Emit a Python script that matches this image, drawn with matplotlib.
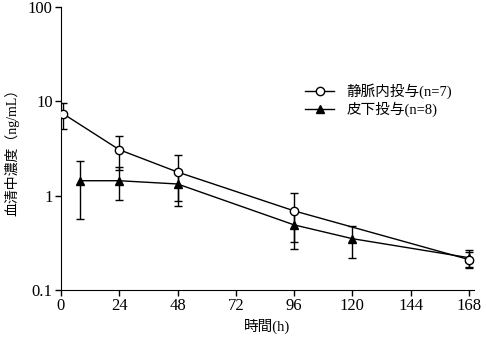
import matplotlib
matplotlib.use('Agg')
import matplotlib.pyplot as plt
from matplotlib.lines import Line2D
from matplotlib.ticker import FixedLocator, NullLocator

plt.rcParams['font.family'] = ['Liberation Serif', 'Noto Sans CJK JP']

# 静脈内投与 (n=7)
iv_t = [1, 24, 48, 96, 168]
iv_mean = [7.35, 3.07, 1.78, 0.69, 0.21]
iv_sd = [2.3, 1.19, 0.90, 0.37, 0.04]

# 皮下投与 (n=8)
sc_t = [8, 24, 48, 96, 120, 168]
sc_mean = [1.44, 1.44, 1.33, 0.49, 0.35, 0.22]
sc_sd = [0.87, 0.55, 0.55, 0.22, 0.13, 0.045]

x_ticks = [0, 24, 48, 72, 96, 120, 144, 168]
y_ticks = [0.1, 1, 10, 100]
y_labels = ['0.1', '1', '10', '100']

fig = plt.figure(figsize=(4.86, 3.43), dpi=100)
ax = fig.add_axes([0.1255, 0.1545, 0.8495, 0.8251])

ax.errorbar(iv_t, iv_mean, yerr=iv_sd, color='black', lw=1, marker='o',
            mfc='white', mec='black', ms=6, capsize=3, elinewidth=1, zorder=3)
ax.errorbar(sc_t, sc_mean, yerr=sc_sd, color='black', lw=1, marker='^',
            mfc='black', mec='black', ms=6, capsize=3, elinewidth=1, zorder=2)

ax.set_yscale('log')
ax.set_ylim(0.1, 100)
ax.set_xlim(0, 170)
ax.yaxis.set_major_locator(FixedLocator(y_ticks))
ax.yaxis.set_minor_locator(NullLocator())
ax.set_yticklabels(y_labels)
ax.set_xticks(x_ticks)
ax.tick_params(labelsize=12, direction='out', length=4, width=1, pad=2)

for s in ['top', 'right']:
    ax.spines[s].set_visible(False)

ax.set_xlabel('時間(h)', fontsize=10.5, labelpad=3)
ax.set_ylabel('血清中濃度（ng/mL）', fontsize=10)
ax.yaxis.set_label_coords(-0.100, 0.5)

handles = [
    Line2D([], [], color='black', lw=1, marker='o', mfc='white', ms=6),
    Line2D([], [], color='black', lw=1, marker='^', mfc='black', ms=6),
]
ax.legend(handles, ['静脈内投与(n=7)', '皮下投与(n=8)'], loc='upper left',
          bbox_to_anchor=(0.56, 0.775), frameon=False, fontsize=10.5,
          handlelength=2.0, handletextpad=0.8, labelspacing=0.15)

fig.savefig('out.png', dpi=100)
